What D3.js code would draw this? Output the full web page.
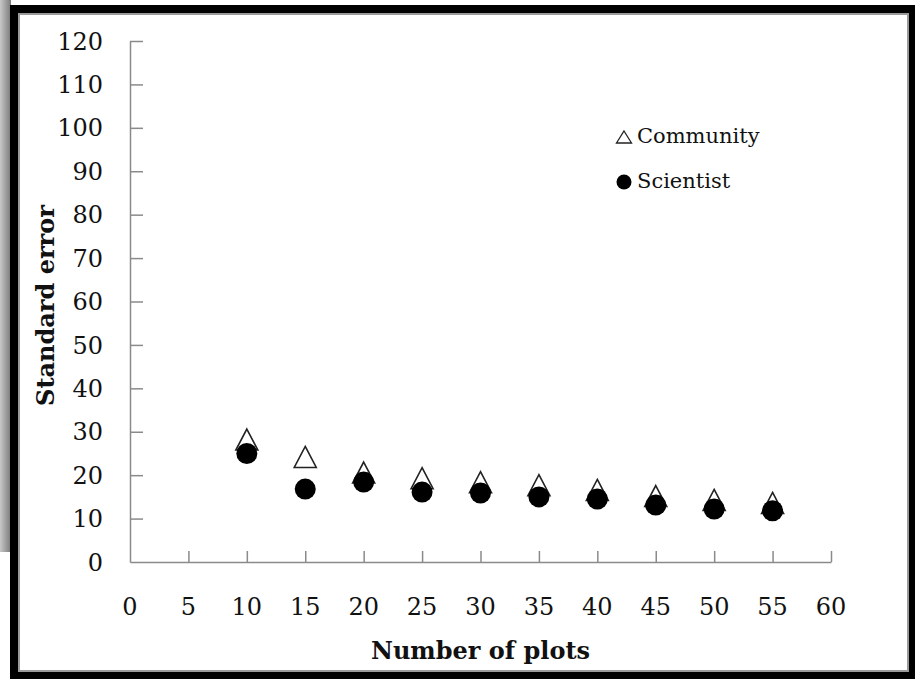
<!DOCTYPE html>
<html>
<head>
<meta charset="utf-8">
<script src="https://cdn.jsdelivr.net/npm/d3@7"></script>
<style>
  body { margin: 0; background: #fff; }
  text { font-family: "DejaVu Serif", "Liberation Serif", serif; fill: #111; }
</style>
</head>
<body>
<svg id="chart"></svg>
<script>
// Number of plots on the x axis
const plots = [10, 15, 20, 25, 30, 35, 40, 45, 50, 55];
// Standard error per series
const community = [28.2, 24.2, 20.6, 19.3, 18.4, 17.7, 16.6, 15.2, 14.3, 13.6];
const scientist = [25.0, 16.8, 18.4, 16.1, 15.9, 15.0, 14.5, 13.1, 12.2, 11.8];
const xTicks = d3.range(0, 61, 5);
const yTicks = d3.range(0, 121, 10);

const width = 920, height = 679;
const svg = d3.select('#chart').attr('width', width).attr('height', height);

// Left shadow strip
const defs = svg.append('defs');
const grad = defs.append('linearGradient').attr('id', 'shade');
grad.append('stop').attr('offset', '0%').attr('stop-color', '#c8c8c8');
grad.append('stop').attr('offset', '100%').attr('stop-color', '#7a7a7a');
svg.append('rect').attr('x', 0).attr('y', 0).attr('width', 11).attr('height', 552)
    .style('fill', 'url(#shade)');

// Black frame with thin gray inner line
svg.append('rect').attr('x', 10).attr('y', 5).attr('width', 905).attr('height', 674)
    .style('fill', '#000');
svg.append('rect').attr('x', 19).attr('y', 14).attr('width', 889).attr('height', 657)
    .style('fill', '#fff').style('stroke', '#9a9a9a').style('stroke-width', 2);

// Scales
const x = d3.scaleLinear().domain([0, 60]).range([130, 831]);
const y = d3.scaleLinear().domain([0, 120]).range([562, 41]);

const axisColor = '#8a8a8a';

// Y axis (ticks point inside)
const yAxis = svg.append('g').attr('transform', `translate(${x(0)},0)`)
    .call(d3.axisRight(y).tickValues(yTicks).tickSize(13).tickSizeOuter(0).tickFormat(''));
// X axis (ticks point up)
const xAxis = svg.append('g').attr('transform', `translate(0,${y(0)})`)
    .call(d3.axisTop(x).tickValues(xTicks).tickSize(11).tickSizeOuter(0).tickFormat(''));
[yAxis, xAxis].forEach(a => {
    a.selectAll('path, line').style('stroke', axisColor).style('stroke-width', 1.5);
});
xAxis.selectAll('.tick').filter(d => d === 0).remove();
yAxis.selectAll('.tick').filter(d => d === 0).remove();

// Tick labels
svg.append('g').selectAll('text')
    .data(yTicks)
    .enter().append('text')
    .attr('x', 103)
    .attr('y', d => y(d))
    .attr('dy', '0.36em')
    .attr('text-anchor', 'end')
    .style('font-size', '24px')
    .text(d => d);

svg.append('g').selectAll('text')
    .data(xTicks)
    .enter().append('text')
    .attr('x', d => x(d))
    .attr('y', 615)
    .attr('text-anchor', 'middle')
    .style('font-size', '24px')
    .text(d => d);

// Axis titles
svg.append('text')
    .attr('x', x(30))
    .attr('y', 659)
    .attr('text-anchor', 'middle')
    .style('font-size', '24px')
    .style('font-weight', 'bold')
    .text('Number of plots');

svg.append('text')
    .attr('transform', `translate(54,${y(60) + 4}) rotate(-90)`)
    .attr('text-anchor', 'middle')
    .style('font-size', '24px')
    .style('font-weight', 'bold')
    .text('Standard error');

// Triangle marker: box w x h centred on the point (Excel style)
function triangle(w, h) {
    return `M0,${-h / 2}L${w / 2},${h / 2}L${-w / 2},${h / 2}Z`;
}

svg.append('g').selectAll('path')
    .data(plots)
    .enter().append('path')
    .attr('d', triangle(22, 21))
    .attr('transform', (d, i) => `translate(${x(d)},${y(community[i])})`)
    .style('fill', '#fff')
    .style('stroke', '#222')
    .style('stroke-width', 1.6);

svg.append('g').selectAll('circle')
    .data(plots)
    .enter().append('circle')
    .attr('cx', d => x(d))
    .attr('cy', (d, i) => y(scientist[i]))
    .attr('r', 10.5)
    .style('fill', '#000');

// Legend
const legend = svg.append('g');
legend.append('path')
    .attr('d', triangle(15, 12))
    .attr('transform', 'translate(624,137)')
    .style('fill', '#fff')
    .style('stroke', '#222')
    .style('stroke-width', 1.3);
legend.append('text')
    .attr('x', 637).attr('y', 143)
    .style('font-size', '21px')
    .text('Community');
legend.append('circle')
    .attr('cx', 624).attr('cy', 182).attr('r', 7.5)
    .style('fill', '#000');
legend.append('text')
    .attr('x', 637).attr('y', 188)
    .style('font-size', '21px')
    .text('Scientist');
</script>
</body>
</html>
